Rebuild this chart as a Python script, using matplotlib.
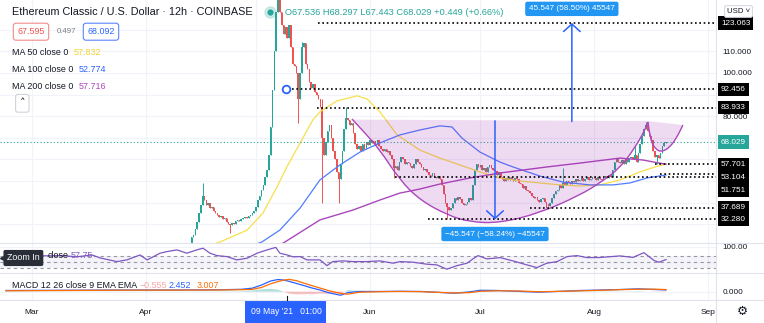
import matplotlib.pyplot as plt
import numpy as np
from matplotlib.path import Path
from matplotlib.patches import PathPatch, Rectangle
from matplotlib.lines import Line2D

plt.rcParams['font.family'] = ['Liberation Sans', 'DejaVu Sans']

# x values: days after 1 Mar 2021. candles are 12h.
first_candle_day = 38.0
first_open = 13.6
closes = [
    14.0, 14.5, 15.0, 14.8, 15.5, 16.0, 16.5, 17.0, 18.0, 19.5,
    21.0, 24.0, 25.0, 28.0, 31.0, 35.0, 39.0, 43.0, 41.0, 39.0,
    40.0, 37.5, 38.0, 36.0, 35.0, 34.5, 33.5, 34.0, 32.5, 33.0,
    31.0, 30.0, 29.5, 30.5, 30.0, 31.5, 32.0, 31.5, 32.5, 33.0,
    33.5, 33.0, 34.0, 34.5, 35.0, 36.0, 38.0, 41.0, 43.0, 46.0,
    48.0, 52.0, 55.0, 62.0, 75.0, 92.0, 110.0, 128.0, 138.0, 128.0,
    122.0, 118.0, 121.0, 116.0, 122.0, 112.0, 104.0, 103.0, 100.0, 88.0,
    100.0, 112.0, 114.0, 104.0, 102.0, 96.0, 93.0, 95.0, 91.0, 90.0,
    88.0, 84.0, 70.0, 62.0, 68.0, 73.0, 76.0, 70.0, 64.0, 60.0,
    54.0, 51.0, 58.0, 64.0, 74.0, 79.0, 78.0, 76.0, 77.0, 72.0,
    67.0, 65.0, 66.0, 64.0, 67.0, 65.0, 68.0, 66.5, 69.0, 67.5,
    68.5, 67.0, 69.0, 66.0, 65.0, 64.0, 65.0, 63.5, 64.0, 62.0,
    60.0, 56.0, 57.0, 55.0, 59.0, 61.0, 60.0, 58.0, 59.0, 58.5,
    57.0, 56.0, 58.0, 60.0, 59.0, 58.0, 56.5, 55.0, 55.5, 54.0,
    53.0, 52.5, 53.5, 52.0, 51.5, 52.5, 51.0, 48.0, 44.0, 40.0,
    38.0, 36.5, 37.5, 40.0, 42.0, 41.0, 42.5, 41.5, 40.0, 39.0,
    39.5, 40.5, 42.0, 41.0, 48.0, 55.0, 58.0, 56.5, 57.5, 55.0,
    56.0, 54.0, 56.5, 57.5, 56.0, 55.0, 54.5, 53.0, 54.0, 52.0,
    51.0, 50.0, 51.5, 50.5, 52.0, 51.0, 50.0, 51.5, 51.0, 49.0,
    48.5, 47.0, 47.5, 46.0, 45.5, 44.5, 43.0, 42.0, 42.5, 41.0,
    40.5, 41.5, 42.0, 40.5, 39.5, 38.5, 40.0, 42.0, 44.0, 45.5,
    46.0, 48.0, 47.0, 49.0, 48.0, 50.0, 49.0, 48.5, 50.0, 49.5,
    51.0, 50.0, 50.5, 51.5, 50.0, 51.0, 52.0, 50.5, 51.0, 52.0,
    51.5, 50.5, 52.0, 51.0, 50.5, 51.5, 52.5, 51.5, 53.0, 52.0,
    55.0, 59.0, 60.0, 59.0, 58.5, 59.5, 58.0, 60.0, 59.0, 60.5,
    61.0, 60.0, 62.0, 59.0, 63.0, 67.0, 71.0, 74.0, 76.0, 73.0,
    71.0, 69.0, 64.0, 61.0, 62.0, 60.5, 63.0, 66.0, 67.6, 68.029,
]
wick_high = {46.5: 49.0, 67.0: 145.0, 73.5: 114.5, 79.0: 88.0, 85.5: 84.0,
             144.5: 56.0, 164.0: 66.0, 167.0: 77.3}
wick_low = {54.0: 26.0, 72.5: 77.0, 79.0: 40.0, 83.5: 40.0, 98.5: 51.5,
            113.0: 32.3, 140.0: 37.7, 170.0: 57.8}

ma50_days = [47.0, 51.2, 58.6, 62.9, 66.7, 69.4, 73.0, 76.5, 78.4, 83.0, 88.5, 91.2, 94.7, 99.4,
             105.6, 111.0, 116.5, 121.9, 127.3, 132.8, 138.2, 143.7, 149.1, 154.5, 160.0,
             165.4, 169.5, 172.5]
ma50 = [19.5, 21.8, 27.3, 35.2, 47.2, 56.5, 67.6, 78.3, 82.0, 87.0, 89.4, 87.9, 82.0, 71.3,
        64.3, 60.6, 57.4, 54.2, 51.4, 50.0, 49.1, 48.2, 47.7, 48.2, 50.5, 54.2, 56.5, 57.832]
ma100_days = [59.0, 62.6, 67.5, 73.0, 78.4, 83.8, 89.3, 94.7, 100.1, 105.6, 111.0, 114.3, 117.0,
              121.9, 127.3, 130.9, 138.2, 144.5, 151.8, 158.1, 162.7, 167.3, 172.5]
ma100 = [19.5, 21.8, 27.3, 37.5, 50.5, 57.4, 63.4, 67.6, 71.3, 73.6, 75.5, 75.0, 69.9,
         63.4, 58.8, 56.5, 52.3, 49.5, 48.2, 48.2, 49.1, 51.4, 52.774]
ma200_days = [65.0, 68.4, 78.4, 87.4, 94.7, 100.1, 105.6, 111.0, 119.2, 127.3, 140.1, 149.1,
              160.0, 166.3, 172.5]
ma200 = [19.5, 21.3, 32.0, 36.6, 41.2, 44.4, 46.3, 48.6, 51.4, 53.7, 56.5, 58.3, 60.6, 59.7, 57.716]

rsi_days = [-3.2, 2.3, 8.2, 12.3, 16.4, 18.6, 23.2, 25.9, 29.5, 31.4, 33.0, 34.9, 36.8, 39.5,
            42.2, 44.9, 46.6, 48.5, 50.4, 53.1, 55.8, 58.6, 61.3, 64.0, 66.4, 67.5, 69.4, 71.1,
            73.0, 74.9, 78.4, 80.3, 81.9, 84.7, 87.4, 91.2, 94.7, 98.3, 100.2, 103.7, 107.5,
            110.2, 112.9, 115.7, 118.4, 120.0, 121.4, 123.8, 127.4, 130.9, 134.7, 137.4, 140.1,
            142.9, 145.6, 148.3, 151.0, 154.6, 160.0, 163.5, 166.5, 169.3, 170.6, 172.5]
rsi = [68.3, 70.0, 71.0, 67.0, 73.3, 63.3, 51.0, 56.7, 73.3, 56.7, 66.7, 79.0, 84.3, 90.0,
       79.0, 90.0, 95.7, 79.0, 71.0, 67.7, 56.7, 62.3, 79.0, 90.0, 98.3, 79.0, 73.3, 67.0,
       67.7, 56.7, 56.7, 37.7, 51.0, 53.3, 51.0, 51.0, 53.3, 45.7, 51.0, 49.0, 42.3,
       40.0, 25.7, 37.7, 45.7, 60.0, 71.0, 60.0, 64.3, 53.3, 40.0, 31.0, 45.7,
       51.0, 67.7, 71.0, 64.3, 64.7, 70.0, 65.0, 80.7, 54.3, 49.0, 57.75]

macd_days = [-7, 8, 24, 40, 51, 57, 60, 62.5, 65, 67, 68.5, 70, 72, 74, 76, 78.5, 81, 84, 86,
             89, 95, 100, 106, 111, 115, 119, 122, 127, 133, 138, 144, 149, 155, 160, 165,
             169.5, 172.5]
macd = [1.7, 2.0, 2.4, 2.4, 2.7, 3.4, 5.0, 9.5, 15.3, 17.4, 16.7, 14.8, 11.8, 8.8, 5.6, 2.3,
        -1.8, -5.1, -1.3, 0.3, 0.3, 0.6, 0.3, -1.1, -2.3, -0.4, 2.0, 1.7, 0.3, -0.7, 0.6, 1.7,
        2.4, 3.1, 4.1, 3.1, 2.452]
signal = [1.3, 1.7, 2.1, 2.2, 2.4, 2.8, 3.3, 6.0, 11.2, 14.5, 16.5, 17.6, 15.8, 12.3, 9.0,
          5.1, 1.2, -2.4, -3.6, -0.8, 0.0, 0.3, 0.0, -1.0, -1.9, -1.4, 0.6, 1.3, 0.9, -0.1,
          0.5, 1.2, 2.0, 2.9, 3.5, 3.6, 3.007]

# cup and handle drawing (day, price)
cup = [(87.1, 78.7), (90.6, 72.3), (94.7, 64.4), (100.1, 50.5), (105.6, 41.2), (113.0, 34.3),
       (119.2, 31.0), (127.3, 30.6), (138.2, 35.2), (149.1, 43.5), (154.5, 49.1), (160.0, 56.0),
       (164.0, 65.3), (166.8, 73.6), (167.6, 77.3)]
handle = [(167.6, 77.3), (168.1, 69.9), (169.5, 64.8), (171.4, 63.4), (173.6, 65.7),
          (175.5, 70.3), (177.1, 75.9)]
cup_top = [(87.1, 78.4), (167.6, 77.7), (177.1, 75.9)]

levels = [123.063, 92.456, 83.933, 57.701, 53.104, 51.751, 37.689, 32.280]
level_from = [77.9, 70.8, 77.6, 169.5, 170.9, 98.8, 135.5, 107.8]
level_shift = [0, 0, 0, 0, -2.5, -9.2, 0, 0]
last_close = 68.029
rise = (146.9, 77.516, 123.063, '45.547 (58.50%) 45547')
fall = (126.0, 77.827, 32.280, '\u221245.547 (\u221258.24%) \u221245547')
price_ticks = [80, 100, 110]

month_days = [0, 31, 61, 92, 122, 153, 184]
month_names = ['Mar', 'Apr', '', 'Jun', 'Jul', 'Aug', 'Sep']

GREEN, RED = '#26a69a', '#ef5350'
BLUE = '#2962ff'
GRID = '#f0f3fa'
SEP = '#e0e3eb'
TXT = '#131722'
W, H = 764, 323
XL = (-8.6, 186.1)


def fx(x):
    return x / W


def fy(y):
    return 1 - y / H


def smooth(pts, start=True):
    verts, codes = [], []
    if start:
        verts.append(pts[0])
        codes.append(Path.MOVETO)
    for i in range(1, len(pts) - 1):
        mid = ((pts[i][0] + pts[i + 1][0]) / 2, (pts[i][1] + pts[i + 1][1]) / 2)
        verts += [pts[i], mid]
        codes += [Path.CURVE3, Path.CURVE3]
    verts.append(pts[-1])
    codes.append(Path.LINETO)
    return verts, codes


fig = plt.figure(figsize=(7.64, 3.23), dpi=100)
ax = fig.add_axes([0, fy(243.3), fx(716), 243.3 / H])
ax_rsi = fig.add_axes([0, fy(273.3), fx(716), 30 / H], sharex=ax)
ax_macd = fig.add_axes([0, fy(300), fx(716), 26.7 / H], sharex=ax)

for a in (ax, ax_rsi, ax_macd):
    for s in a.spines.values():
        s.set_visible(False)
    a.yaxis.tick_right()
    a.tick_params(length=0, labelsize=5.9, labelcolor=TXT, pad=4.5)
    a.set_xticks(month_days)
    a.grid(color=GRID, lw=0.8)
    a.set_axisbelow(True)
ax.set_xlim(*XL)
ax.tick_params(labelbottom=False)
ax_rsi.tick_params(labelbottom=False)

# price pane
c = np.array(closes)
o = np.r_[first_open, c[:-1]]
cdays = first_candle_day + 0.5 * np.arange(len(c))
hi = np.maximum(o, c)
lo = np.minimum(o, c)
for d, v in wick_high.items():
    i = int(round((d - first_candle_day) * 2))
    hi[i] = max(hi[i], v)
for d, v in wick_low.items():
    i = int(round((d - first_candle_day) * 2))
    lo[i] = min(lo[i], v)
cols = np.where(c >= o, GREEN, RED)
ax.vlines(cdays, lo, hi, colors=cols, lw=0.7, zorder=2)
ax.bar(cdays, c - o, bottom=o, width=0.42, color=cols, lw=0, zorder=2)

ax.plot(ma50_days, ma50, color='#f7e04a', lw=0.9, zorder=3)
ax.plot(ma100_days, ma100, color='#4f7cff', lw=0.9, zorder=3)
ax.plot(ma200_days, ma200, color='#ab47bc', lw=1.0, zorder=3)

# cup & handle
v1, c1 = smooth(cup)
v2, c2 = smooth(handle)
fv = [cup_top[0], cup_top[1], cup_top[2]]
fc = [Path.MOVETO, Path.LINETO, Path.LINETO]
hv, hc = smooth(handle[::-1], start=False)
cv, cc = smooth(cup[::-1], start=False)
fv += hv + cv + [cup_top[0]]
fc += hc + cc + [Path.CLOSEPOLY]
ax.add_patch(PathPatch(Path(fv, fc), fc='#9c27b0', alpha=0.17, ec='none', zorder=4))
ax.add_patch(PathPatch(Path(v1, c1), fc='none', ec='#ab47bc', lw=1.0, zorder=4))
ax.add_patch(PathPatch(Path(v2, c2), fc='none', ec='#ab47bc', lw=1.0, zorder=4))

ax.axhline(last_close, color=GREEN, lw=0.8, ls=(0, (1, 2)), zorder=3)
for lv, d0, sh in zip(levels, level_from, level_shift):
    ax.hlines(lv, d0, XL[1], colors='black', lw=1.2, linestyles=(0, (1, 1.6)), zorder=5)
    ax.annotate(f'{lv:.3f}', xy=(1, lv), xycoords=('axes fraction', 'data'),
                xytext=(3.6, sh), textcoords='offset points', va='center', ha='left',
                fontsize=5.9, color='white', annotation_clip=False, zorder=10,
                bbox=dict(boxstyle='square,pad=0.38', fc='black', ec='none'))
ax.annotate(f'{last_close:.3f}', xy=(1, last_close), xycoords=('axes fraction', 'data'),
            xytext=(3.6, 0), textcoords='offset points', va='center', ha='left',
            fontsize=5.9, color='white', annotation_clip=False, zorder=10,
            bbox=dict(boxstyle='square,pad=0.38', fc=GREEN, ec='none'))
ax.plot(69.2, 92.456, 'o', mfc='white', mec=BLUE, ms=5.5, mew=1.3, zorder=6)

for d, y0, y1, lab in (rise, fall):
    ax.annotate('', xy=(d, y1), xytext=(d, y0),
                arrowprops=dict(arrowstyle='->,head_length=0.45,head_width=0.5', color=BLUE,
                                lw=1.1, shrinkA=0, shrinkB=0, mutation_scale=12), zorder=6)
ax.text(rise[0], 129.6, rise[3], ha='center', va='center', fontsize=5.9, color='white', zorder=7,
        bbox=dict(boxstyle='round,pad=0.45,rounding_size=0.25', fc='#2196f3', ec='none'))
ax.text(fall[0], 25.5, fall[3], ha='center', va='center', fontsize=5.9, color='white', zorder=7,
        bbox=dict(boxstyle='round,pad=0.45,rounding_size=0.25', fc='#2196f3', ec='none'))

ax.set_ylim(21.2, 133.7)
ax.set_yticks(range(30, 130, 10))
ax.set_yticklabels([f'{v:.3f}' if v in price_ticks else '' for v in range(30, 130, 10)])

# RSI pane
ax_rsi.axhspan(30, 70, color='#7e57c2', alpha=0.07, lw=0)
for lv in (30, 50, 70):
    ax_rsi.axhline(lv, color='#9598a1', lw=0.8, ls=(0, (3, 3)))
ax_rsi.plot(rsi_days, rsi, color='#7e57c2', lw=0.9)
ax_rsi.set_ylim(12, 112)
ax_rsi.set_yticks([100])
ax_rsi.set_yticklabels(['100.00'])

# MACD pane
md = np.array(macd_days, dtype=float)
hist = np.array(macd) - np.array(signal)
ax_macd.fill_between(md, 0, hist, where=hist >= 0, color=GREEN, alpha=0.35, lw=0, interpolate=True)
ax_macd.fill_between(md, 0, hist, where=hist < 0, color=RED, alpha=0.35, lw=0, interpolate=True)
ax_macd.plot(macd_days, macd, color=BLUE, lw=0.9)
ax_macd.plot(macd_days, signal, color='#ff6d00', lw=0.9)
ax_macd.set_ylim(-11.9, 26.3)
ax_macd.set_yticks([0])
ax_macd.set_yticklabels(['0.000'])
ax_macd.set_xticklabels(month_names)
ax_macd.tick_params(axis='x', pad=6.5, labelsize=6)

# pane separators
for y in (243.3, 273.3, 300):
    fig.add_artist(Line2D([0, 1], [fy(y), fy(y)], color=SEP, lw=0.8))
fig.add_artist(Line2D([fx(716), fx(716)], [0, 1], color=SEP, lw=0.8))

# header / legend
fig.text(fx(12), fy(12.3), 'Ethereum Classic / U.S. Dollar \u00b7 12h \u00b7 COINBASE',
         fontsize=7.85, color=TXT, va='center')
fig.add_artist(Line2D([fx(270)], [fy(12.3)], marker='o', ms=8, color=GREEN, alpha=0.2, lw=0))
fig.add_artist(Line2D([fx(270)], [fy(12.3)], marker='o', ms=3.5, color=GREEN, lw=0))
fig.text(fx(285), fy(12.3), 'O67.536 H68.297 L67.443 C68.029 +0.449 (+0.66%)',
         fontsize=6.7, color=GREEN, va='center')
fig.text(fx(17.3), fy(31.7), '67.595', fontsize=6.4, color=RED, va='center',
         bbox=dict(boxstyle='round,pad=0.45,rounding_size=0.3', fc='white', ec='#f28b8b', lw=0.8))
fig.text(fx(56.7), fy(31.7), '0.497', fontsize=5.6, color='#787b86', va='center')
fig.text(fx(87.3), fy(31.7), '68.092', fontsize=6.4, color=BLUE, va='center',
         bbox=dict(boxstyle='round,pad=0.45,rounding_size=0.3', fc='white', ec='#5b84ff', lw=0.8))
for y, lab, val, col, xv in ((52.3, 'MA 50 close 0', '57.832', '#f2d22e', 74),
                             (69.3, 'MA 100 close 0', '52.774', '#2962ff', 79),
                             (86.3, 'MA 200 close 0', '57.716', '#ab47bc', 79)):
    fig.text(fx(12), fy(y), lab, fontsize=6.4, color=TXT, va='center')
    fig.text(fx(xv), fy(y), val, fontsize=6.4, color=col, va='center')
fig.text(fx(22.3), fy(103.3), '\u02c4', fontsize=8, color=TXT, va='center', ha='center',
         bbox=dict(boxstyle='round,pad=0.35,rounding_size=0.2', fc='white', ec='#d1d4dc', lw=0.8),
         family=['DejaVu Sans'])
fig.text(fx(738.5), fy(11.5), 'USD \u02c5', fontsize=5.6, color=TXT, va='center', ha='center',
         bbox=dict(boxstyle='round,pad=0.3,rounding_size=0.2', fc='white', ec='#d1d4dc', lw=0.7),
         family=['Liberation Sans', 'DejaVu Sans'])

# RSI legend: the "RSI 14" part sits under the Zoom In tooltip
fig.text(fx(48), fy(255.5), 'close', fontsize=6.4, color=TXT, va='center')
fig.text(fx(71), fy(255.5), '57.75', fontsize=6.4, color='#7e57c2', va='center')
fig.text(fx(7), fy(258), 'Zoom In', fontsize=6.4, color='white', va='center', zorder=20,
         bbox=dict(boxstyle='round,pad=0.4,rounding_size=0.2', fc='#2a2e39', ec='none'))
fig.add_artist(Line2D([fx(3)], [fy(258)], marker='<', ms=4, color='#2a2e39', lw=0))
fig.text(fx(12), fy(286), 'MACD 12 26 close 9 EMA EMA', fontsize=6.4, color=TXT, va='center')
fig.text(fx(140), fy(286), '\u22120.555', fontsize=6.4, color='#f7a5a5', va='center')
fig.text(fx(169), fy(286), '2.452', fontsize=6.4, color=BLUE, va='center')
fig.text(fx(197), fy(286), '3.007', fontsize=6.4, color='#ff6d00', va='center')

fig.add_artist(Rectangle((fx(245), 0), fx(326) - fx(245), fy(300), fc=BLUE, ec='none'))
fig.add_artist(Line2D([fx(286.5), fx(286.5)], [fy(296), fy(300)], color=TXT, lw=0.8))
fig.text(fx(286.5), fy(311), "09 May '21   01:00", fontsize=6.2, color='white',
         va='center', ha='center')
fig.text(fx(742), fy(311), '\u2699', fontsize=9, color=TXT, va='center', ha='center',
         family=['DejaVu Sans'])

fig.savefig('out.png', dpi=100)
